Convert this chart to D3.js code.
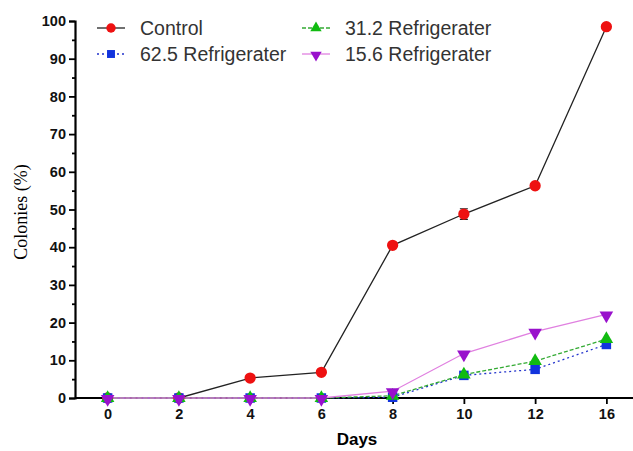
<!DOCTYPE html>
<html>
<head>
<meta charset="utf-8">
<script src="https://cdn.jsdelivr.net/npm/d3@7"></script>
<style>
  body { margin: 0; background: #fff; }
  svg { display: block; }
</style>
</head>
<body>
<svg id="chart"></svg>
<script>
// data
const days = ["0", "2", "4", "6", "8", "10", "12", "16"];
const control = [0, 0, 5.3, 6.8, 40.5, 48.8, 56.3, 98.5];
const controlErr = [0, 0, 0, 0, 0, 1.4, 0, 0];
const fridge625 = [0, 0, 0, 0, 0.2, 6, 7.6, 14.2];
const fridge312 = [0, 0, 0, 0, 0.6, 6.2, 9.8, 15.6];
const fridge156 = [0, 0, 0, 0, 1.8, 11.8, 17.6, 22.2];
const yTicks = [0, 10, 20, 30, 40, 50, 60, 70, 80, 90, 100];

const W = 633, H = 451;
const svg = d3.select("#chart").attr("width", W).attr("height", H);

const x = d3.scalePoint().domain(days).range([72, 642]).padding(0.5);
const y = d3.scaleLinear().domain([0, 100]).range([398, 21]);

const series = [
  { name: "Control", values: control, line: "#222", dash: null, fill: "#ee1111", shape: d3.symbolCircle, size: 100 },
  { name: "62.5 Refrigerater", values: fridge625, line: "#2233cc", dash: "2,3", fill: "#1133dd", shape: d3.symbolSquare, size: 90 },
  { name: "31.2 Refrigerater", values: fridge312, line: "#33aa33", dash: "4,2", fill: "#11bb11", shape: d3.symbolTriangle, size: 80 },
  { name: "15.6 Refrigerater", values: fridge156, line: "#e080e0", dash: null, fill: "#9911cc", shape: d3.symbolTriangle, size: 80, flip: true }
];

// axes
svg.append("g")
  .attr("transform", "translate(75,0)")
  .call(d3.axisLeft(y).tickValues(yTicks).tickSize(6).tickPadding(3));
svg.append("g")
  .attr("transform", "translate(75,0)")
  .call(d3.axisLeft(y).tickValues(d3.range(5, 100, 10)).tickSize(3).tickFormat(""))
  .call(g => g.select(".domain").remove());
const xAxis = svg.append("g")
  .attr("transform", `translate(0,${y(0)})`)
  .call(d3.axisBottom(x).tickSize(6).tickPadding(5).tickSizeOuter(0));

svg.selectAll(".domain").attr("stroke", "#000").attr("stroke-width", 2.2);
svg.selectAll(".tick line").attr("stroke", "#000").attr("stroke-width", 1.8);
svg.selectAll(".tick text")
  .attr("font-family", "Liberation Sans, Arial, sans-serif")
  .attr("font-size", 14.5).attr("font-weight", "bold").attr("fill", "#111");
xAxis.select(".domain").attr("d", `M75,0H${W}`);

// axis titles
svg.append("text")
  .attr("x", 357).attr("y", 445)
  .attr("text-anchor", "middle")
  .attr("font-family", "Liberation Sans, Arial, sans-serif")
  .attr("font-size", 17).attr("font-weight", "bold")
  .text("Days");
svg.append("text")
  .attr("transform", "translate(27,212) rotate(-90)")
  .attr("text-anchor", "middle")
  .attr("font-family", "Liberation Serif, Times New Roman, serif")
  .attr("font-size", 18)
  .text("Colonies (%)");

// lines
const line = d3.line().x((d, i) => x(days[i])).y(d => y(d));
series.forEach(s => {
  svg.append("path")
    .datum(s.values)
    .attr("fill", "none")
    .attr("stroke", s.line)
    .attr("stroke-width", 1.3)
    .attr("stroke-dasharray", s.dash)
    .attr("d", line);
});

// error bars on control
svg.selectAll(".err")
  .data(controlErr.map((e, i) => ({ e, i })).filter(d => d.e > 0))
  .join("path")
  .attr("stroke", "#222").attr("stroke-width", 1.2).attr("fill", "none")
  .attr("d", d => {
    const cx = x(days[d.i]);
    const y1 = y(control[d.i] + d.e), y2 = y(control[d.i] - d.e);
    return `M${cx - 4},${y1}H${cx + 4}M${cx},${y1}V${y2}M${cx - 4},${y2}H${cx + 4}`;
  });

// markers
series.forEach(s => {
  svg.append("g").selectAll("path")
    .data(s.values)
    .join("path")
    .attr("d", d3.symbol().type(s.shape).size(s.size))
    .attr("transform", (d, i) => `translate(${x(days[i])},${y(d) + (s.flip ? 1 : 0)})${s.flip ? " rotate(180)" : ""}`)
    .attr("fill", s.fill);
});

// legend
const legendPos = [[97, 28], [97, 54], [302, 28], [302, 54]];
series.forEach((s, i) => {
  const [lx, ly] = legendPos[i];
  const g = svg.append("g").attr("transform", `translate(${lx},${ly})`);
  g.append("line").attr("x1", 0).attr("x2", 28)
    .attr("stroke", s.line).attr("stroke-width", 1.3).attr("stroke-dasharray", s.dash);
  g.append("path")
    .attr("d", d3.symbol().type(s.shape).size(s.size * 0.7))
    .attr("transform", `translate(14,${s.flip ? 1 : 0})${s.flip ? " rotate(180)" : ""}`)
    .attr("fill", s.fill);
  g.append("text")
    .attr("x", 43).attr("y", 7)
    .attr("font-family", "Liberation Sans, Arial, sans-serif")
    .attr("font-size", 19.5).attr("fill", "#333")
    .text(s.name);
});
</script>
</body>
</html>
